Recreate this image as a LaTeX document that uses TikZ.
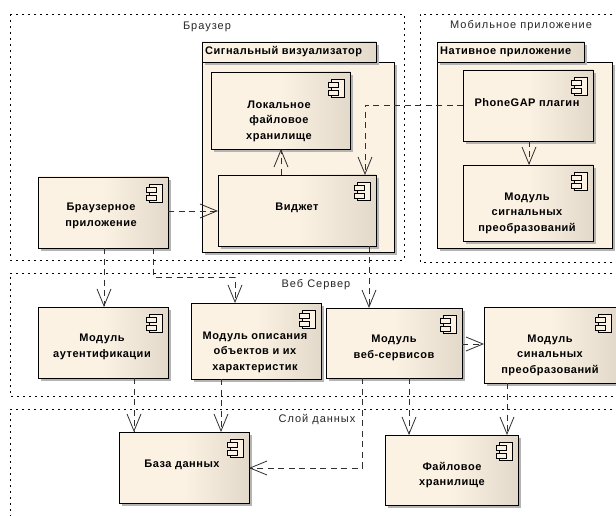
\documentclass[tikz,border=0pt]{standalone}
\usepackage{fontspec}
\setmainfont{Liberation Sans}
\newfontfamily\frameFont[LetterSpace=9]{Liberation Sans}
\newfontfamily\boxFont[LetterSpace=4.6]{Liberation Sans Bold}
\usetikzlibrary{arrows.meta,shadows}
\definecolor{lightfill}{HTML}{FBF2E4}
\definecolor{darkfill}{HTML}{E2D9CA}
\definecolor{shadowgrey}{HTML}{B4B4B4}
\definecolor{wirecol}{HTML}{303030}
\pgfdeclarehorizontalshading{compshade}{100bp}{color(0bp)=(lightfill); color(50bp)=(lightfill); color(75bp)=(darkfill); color(100bp)=(darkfill)}
\tikzset{
  x=1pt,y=-1pt,
  zone/.style={draw=black,line width=.9pt,dash pattern=on 2pt off 4pt},
  boxbase/.style={draw=black,line width=.9pt,anchor=north west,inner sep=0pt,outer sep=0pt,
     drop shadow={shadow xshift=3pt,shadow yshift=-3pt,fill=shadowgrey,opacity=1}},
  compbox/.style={boxbase,shading=compshade},
  bodybox/.style={boxbase,fill=lightfill},
  boxtext/.style={align=center,font=\fontsize{11}{15.6}\boxFont,inner sep=0pt},
  tabtext/.style={anchor=west,font=\fontsize{11}{13}\boxFont,inner sep=0pt},
  zonetext/.style={font=\fontsize{11}{12}\frameFont,inner sep=0pt,text=black!85},
  dep/.style={draw=wirecol,line width=.8pt,dash pattern=on 6pt off 4.5pt,
     -{Straight Barb[length=17pt,width=14pt,line width=.8pt,color=wirecol]}},
  iconpart/.style={draw=black,line width=.8pt,fill=lightfill}
}
% name, x1, y1, x2, y2, text, text x, text y
\newcommand{\compnode}[8]{%
  \node[compbox,minimum width=#4-#2,minimum height=#5-#3] (#1) at (#2,#3) {};
  \draw[iconpart] ([xshift=-19pt,yshift=-7pt]#1.north east) rectangle ([xshift=-6pt,yshift=-25pt]#1.north east);
  \draw[iconpart] ([xshift=-22pt,yshift=-10pt]#1.north east) rectangle ([xshift=-12pt,yshift=-15pt]#1.north east);
  \draw[iconpart] ([xshift=-22pt,yshift=-18pt]#1.north east) rectangle ([xshift=-12pt,yshift=-23pt]#1.north east);
  \node[boxtext] (#1text) at (#7,#8) {#6};
}
% name, x1, tab right, body right, y1, y2, y3, title
\newcommand{\packnode}[8]{%
  \node[bodybox,minimum width=#4-#2,minimum height=#7-#6] (#1body) at (#2,#6) {};
  \node[compbox,minimum width=#3-#2,minimum height=#6-#5] (#1tab) at (#2,#5) {};
  \node[tabtext] (#1title) at (#2+3,{(#5+#6)/2}) {#8};
}
\begin{document}
\begin{tikzpicture}
\useasboundingbox (0,0) rectangle (616,516);
\fill[white] (0,0) rectangle (616,516);
\clip (0,0) rectangle (616,516);
% zones
\draw[zone] (10,14) rectangle (404,260);
\draw[zone] (630,14) -- (420,14) -- (420,262) -- (630,262);
\draw[zone] (630,273) -- (10,273) -- (10,396) -- (630,396);
\draw[zone] (630,409) -- (10,409) -- (10,525);
\node[zonetext] (zbrowser) at (207,27) {Браузер};
\node[zonetext] (zmobile) at (521,26) {Мобильное приложение};
\node[zonetext] (zweb) at (316,285) {Веб Сервер};
\node[zonetext] (zdata) at (317,420) {Слой данных};
% packages
\packnode{viz}{202}{376}{394}{42}{62}{252}{Сигнальный визуализатор}
\packnode{nat}{437}{584}{612}{42}{62}{248}{Нативное приложение}
% components
\compnode{local}{211}{72}{350}{149}{Локальное\\файловое\\хранилище}{279}{121}
\compnode{widget}{218}{175}{376}{246}{Виджет}{297}{208}
\compnode{phone}{463}{70}{593}{141}{PhoneGAP плагин}{527}{103}
\compnode{sigA}{463}{165}{593}{241}{Модуль\\сигнальных\\преобразований}{527}{213}
\compnode{brapp}{38}{177}{168}{248}{Браузерное\\приложение}{101}{216}
\compnode{auth}{38}{307}{168}{378}{Модуль\\аутентификации}{102}{347}
\compnode{objs}{191}{303}{321}{379}{Модуль описания\\объектов и их\\характеристик}{255}{352}
\compnode{webs}{326}{308}{462}{378}{Модуль\\веб-сервисов}{394}{348}
\compnode{sigB}{484}{307}{617}{383}{Модуль\\синальных\\преобразований}{550}{355}
\compnode{db}{119}{432}{249}{503}{База данных}{182}{465}
\compnode{files}{385}{435}{518}{505}{Файловое\\хранилище}{452}{475}
% connectors
\draw[dep] (brapp.east |- 0,211) -- (widget.west |- 0,211);
\draw[dep] (widget.north -| 281,0) -- (local.south -| 281,0);
\draw[dep] (phone.west |- 0,105) -- (365,105) -- (widget.north -| 365,0);
\draw[dep] (phone.south -| 529,0) -- (sigA.north -| 529,0);
\draw[dep] (brapp.south -| 104,0) -- (auth.north -| 104,0);
\draw[dep] (brapp.south -| 153,0) -- (153,277) -- (235,277) -- (objs.north -| 235,0);
\draw[dep] (widget.south -| 369,0) -- (webs.north -| 369,0);
\draw[dep] (webs.east |- 0,344) -- (sigB.west |- 0,344);
\draw[dep] (auth.south -| 134,0) -- (db.north -| 134,0);
\draw[dep] (objs.south -| 221,0) -- (db.north -| 221,0);
\draw[dep] (webs.south -| 362,0) -- (362,468) -- (db.east |- 0,468);
\draw[dep] (webs.south -| 409,0) -- (files.north -| 409,0);
\draw[dep] (sigB.south -| 507,0) -- (files.north -| 507,0);
\end{tikzpicture}
\end{document}
